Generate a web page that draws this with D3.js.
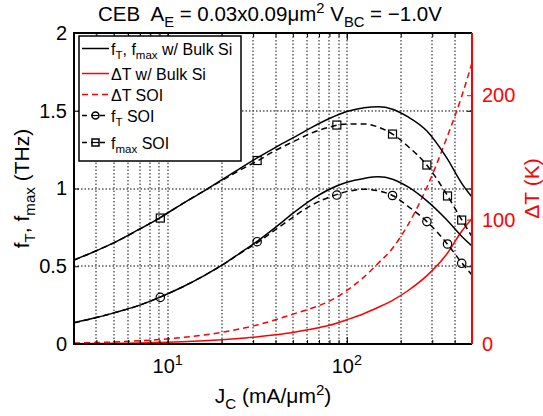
<!DOCTYPE html>
<html>
<head>
<meta charset="utf-8">
<script src="https://cdn.jsdelivr.net/npm/d3@7"></script>
<style>
  body { margin: 0; background: #fff; }
  svg text { font-family: "Liberation Sans", Arial, sans-serif; white-space: pre; }
</style>
</head>
<body>
<svg class="chart"></svg>
<script>
'use strict'

// current density samples (mA/um^2)
const jGrid = [3, 4, 5, 7, 9, 12, 16, 20, 25, 32, 40, 50, 63, 80, 100, 125, 150, 180, 220, 280, 360, 440, 500]

// THz
const fTBulk = [0.137, 0.17, 0.20, 0.25, 0.30, 0.365, 0.44, 0.505, 0.58, 0.665, 0.75, 0.84, 0.925, 0.995, 1.04, 1.065, 1.075, 1.06, 1.01, 0.92, 0.80, 0.69, 0.63]
const fmaxBulk = [0.54, 0.60, 0.65, 0.74, 0.81, 0.90, 0.985, 1.055, 1.125, 1.20, 1.265, 1.325, 1.39, 1.45, 1.495, 1.52, 1.525, 1.51, 1.46, 1.37, 1.20, 1.03, 0.945]
const fTSoi = [0.137, 0.17, 0.20, 0.25, 0.30, 0.365, 0.44, 0.505, 0.578, 0.655, 0.735, 0.815, 0.89, 0.945, 0.98, 0.995, 0.985, 0.955, 0.885, 0.787, 0.65, 0.52, 0.444]
const fmaxSoi = [0.54, 0.60, 0.65, 0.74, 0.81, 0.90, 0.985, 1.05, 1.115, 1.18, 1.245, 1.30, 1.355, 1.395, 1.415, 1.415, 1.395, 1.35, 1.27, 1.15, 0.965, 0.795, 0.69]

// K
const dTBulk = [0.3, 0.4, 0.6, 0.9, 1.3, 1.9, 2.7, 3.5, 4.5, 5.8, 7.4, 9.3, 11.8, 15, 19.5, 24.5, 29.5, 35, 43, 55, 72, 91, 101]
const dTSoi = [0.8, 1.2, 1.6, 2.6, 3.6, 5.2, 7.2, 9.3, 12, 15.5, 19.5, 24, 28.5, 34.5, 43, 54, 65, 77, 96, 126, 165, 200, 226]

// SOI markers
const markJ = [9.1, 31.6, 88, 180, 280, 365, 438]
const fTMarks = [0.30, 0.658, 0.958, 0.955, 0.787, 0.643, 0.519]
const fmaxMarks = [0.81, 1.18, 1.408, 1.35, 1.151, 0.952, 0.797]

const leftTicks = [0, 0.5, 1, 1.5, 2]
const rightTicks = [0, 100, 200]
const xMajor = [10, 100]
const xMinor = [4, 5, 6, 7, 8, 9, 10, 20, 30, 40, 50, 60, 70, 80, 90, 100, 200, 300, 400]

const width = 543
const height = 416
const margin = { left: 74, right: 71, top: 33, bottom: 72 }
const red = '#ff0000'
const font = 20

const svg = d3.select('.chart').attr('width', width).attr('height', height)

const x = d3.scaleLog().domain([3, 500]).range([margin.left, width - margin.right])
const yL = d3.scaleLinear().domain([0, 2]).range([height - margin.bottom, margin.top])
const yR = d3.scaleLinear().domain([0, 250]).range([height - margin.bottom, margin.top])

const x0 = x.range()[0]
const x1 = x.range()[1]
const yTop = margin.top
const yBot = height - margin.bottom

// write text with sub / superscripts
function rich (sel, parts, size) {
  let shift = 0
  parts.forEach(([t, m]) => {
    const target = m === 'sub' ? size * 0.3 : m === 'sup' ? -size * 0.38 : 0
    sel.append('tspan')
      .attr('dy', target - shift)
      .attr('font-size', m ? size * 0.72 : size)
      .text(t)
    shift = target
  })
  return sel
}

svg.append('clipPath').attr('id', 'clip')
  .append('rect').attr('x', x0).attr('y', yTop).attr('width', x1 - x0).attr('height', yBot - yTop)

// grid (dotted)
const gridStyle = g => g.attr('stroke', '#555').attr('stroke-width', 1.4).attr('stroke-dasharray', '1.5,2')
const vGrid = svg.append('g').attr('class', 'grid').call(gridStyle)
vGrid.selectAll('line').data(xMinor).enter().append('line')
  .attr('x1', d => Math.round(x(d))).attr('x2', d => Math.round(x(d))).attr('y1', yTop).attr('y2', yBot)
const hGrid = svg.append('g').attr('class', 'grid').call(gridStyle)
hGrid.selectAll('line').data([0.5, 1, 1.5]).enter().append('line')
  .attr('x1', x0).attr('x2', x1).attr('y1', d => Math.round(yL(d))).attr('y2', d => Math.round(yL(d)))

// curves
const plot = svg.append('g').attr('clip-path', 'url(#clip)')
const lineL = vals => d3.line().x((d, i) => x(jGrid[i])).y(d => yL(d)).curve(d3.curveMonotoneX)(vals)
const lineR = vals => d3.line().x((d, i) => x(jGrid[i])).y(d => yR(d)).curve(d3.curveMonotoneX)(vals)

const series = [
  { d: lineR(dTBulk), c: red, dash: null },
  { d: lineR(dTSoi), c: red, dash: '6,4' },
  { d: lineL(fTSoi), c: '#000', dash: '6,4' },
  { d: lineL(fmaxSoi), c: '#000', dash: '6,4' },
  { d: lineL(fTBulk), c: '#000', dash: null },
  { d: lineL(fmaxBulk), c: '#000', dash: null }
]
plot.selectAll('.curve').data(series).enter().append('path')
  .attr('d', s => s.d)
  .attr('fill', 'none')
  .attr('stroke', s => s.c)
  .attr('stroke-width', 1.5)
  .attr('stroke-dasharray', s => s.dash)

plot.selectAll('.circ').data(fTMarks).enter().append('circle')
  .attr('cx', (d, i) => x(markJ[i])).attr('cy', d => yL(d)).attr('r', 4.2)
  .attr('fill', 'none').attr('stroke', '#000').attr('stroke-width', 1.2)
plot.selectAll('.sq').data(fmaxMarks).enter().append('rect')
  .attr('x', (d, i) => x(markJ[i]) - 4).attr('y', d => yL(d) - 4).attr('width', 8).attr('height', 8)
  .attr('fill', 'none').attr('stroke', '#000').attr('stroke-width', 1.2)

// axes: ticks point inward
const axB = svg.append('g').attr('transform', `translate(0,${yBot})`)
  .call(d3.axisBottom(x).tickValues(xMinor).tickSize(-4).tickFormat(''))
const axT = svg.append('g').attr('transform', `translate(0,${yTop})`)
  .call(d3.axisTop(x).tickValues(xMinor).tickSize(-4).tickFormat(''))
const axB2 = svg.append('g').attr('transform', `translate(0,${yBot})`)
  .call(d3.axisBottom(x).tickValues(xMajor).tickSize(-7).tickFormat(''))
const axT2 = svg.append('g').attr('transform', `translate(0,${yTop})`)
  .call(d3.axisTop(x).tickValues(xMajor).tickSize(-7).tickFormat(''))
const axL = svg.append('g').attr('transform', `translate(${x0},0)`)
  .call(d3.axisLeft(yL).tickValues(leftTicks).tickSize(-5).tickPadding(7).tickFormat(d3.format('')))
const axL2 = svg.append('g').attr('transform', `translate(${x1},0)`)
  .call(d3.axisRight(yL).tickValues(leftTicks).tickSize(-5).tickFormat(''))
const axR = svg.append('g').attr('transform', `translate(${x1},0)`)
  .call(d3.axisRight(yR).tickValues(rightTicks).tickSize(-5).tickPadding(10).tickFormat(d3.format('')))

;[axB, axT, axB2, axT2, axL, axL2].forEach(a => {
  a.select('.domain').remove()
  a.selectAll('line').attr('stroke', '#000').attr('stroke-width', 1)
})
axR.select('.domain').remove()
axR.selectAll('line').attr('stroke', red)
axL.selectAll('text').attr('font-size', font).attr('fill', '#000')
axR.selectAll('text').attr('font-size', font).attr('fill', red)

// frame
svg.append('path').attr('d', `M${x1},${yTop}H${x0}V${yBot}H${x1}`)
  .attr('fill', 'none').attr('stroke', '#000').attr('stroke-width', 2)
svg.append('line').attr('x1', x1).attr('x2', x1).attr('y1', yTop).attr('y2', yBot)
  .attr('stroke', red).attr('stroke-width', 2)

// x tick labels 10^n
svg.selectAll('.xl').data(xMajor).enter().append('text')
  .attr('x', d => x(d)).attr('y', yBot + 29).attr('text-anchor', 'middle')
  .each(function (d) { rich(d3.select(this), [['10', ''], [String(Math.log10(d)), 'sup']], font) })

// legend
const leg = svg.append('g')
leg.append('rect').attr('x', 79).attr('y', 36).attr('width', 162).attr('height', 125)
  .attr('fill', '#fff').attr('stroke', '#000').attr('stroke-width', 1.5)
const legItems = [
  { y: 48.5, c: '#000', dash: null, m: null, t: [['f', ''], ['T', 'sub'], [', f', ''], ['max', 'sub'], [' w/ Bulk Si', '']] },
  { y: 73.5, c: red, dash: null, m: null, t: [['ΔT w/ Bulk Si', '']] },
  { y: 94.5, c: red, dash: '6,4', m: null, t: [['ΔT SOI', '']] },
  { y: 115.5, c: '#000', dash: '5,4', m: 'c', t: [['f', ''], ['T', 'sub'], [' SOI', '']] },
  { y: 142.5, c: '#000', dash: '5,4', m: 's', t: [['f', ''], ['max', 'sub'], [' SOI', '']] }
]
legItems.forEach(it => {
  leg.append('line').attr('x1', 82).attr('x2', 109).attr('y1', it.y).attr('y2', it.y)
    .attr('stroke', it.c).attr('stroke-width', 1.5).attr('stroke-dasharray', it.dash)
  if (it.m === 'c') {
    leg.append('circle').attr('cx', 95.5).attr('cy', it.y).attr('r', 3.5)
      .attr('fill', '#fff').attr('stroke', '#000').attr('stroke-width', 1.5)
    leg.append('line').attr('x1', 92).attr('x2', 99).attr('y1', it.y).attr('y2', it.y).attr('stroke', '#000').attr('stroke-width', 1.2)
  } else if (it.m === 's') {
    leg.append('rect').attr('x', 92).attr('y', it.y - 3.5).attr('width', 7).attr('height', 7)
      .attr('fill', '#fff').attr('stroke', '#000').attr('stroke-width', 1.5)
    leg.append('line').attr('x1', 92).attr('x2', 99).attr('y1', it.y).attr('y2', it.y).attr('stroke', '#000').attr('stroke-width', 1.2)
  }
  rich(leg.append('text').attr('x', 111).attr('y', it.y + 6).attr('fill', '#000'), it.t, 16)
})

// title and labels
rich(svg.append('text').attr('x', (x0 + x1) / 2 - 3).attr('y', 21).attr('text-anchor', 'middle'),
  [['CEB  A', ''], ['E', 'sub'], [' = 0.03x0.09μm', ''], ['2', 'sup'], [' V', ''], ['BC', 'sub'], [' = −1.0V', '']], 20.5)

rich(svg.append('text').attr('x', (x0 + x1) / 2).attr('y', 403).attr('text-anchor', 'middle'),
  [['J', ''], ['C', 'sub'], [' (mA/μm', ''], ['2', 'sup'], [')', '']], 21)

rich(svg.append('text').attr('transform', `translate(29,${(yTop + yBot) / 2}) rotate(-90)`).attr('text-anchor', 'middle'),
  [['f', ''], ['T', 'sub'], [', f', ''], ['max', 'sub'], [' (THz)', '']], 21)

svg.append('text').attr('transform', `translate(539,${(yTop + yBot) / 2}) rotate(-90)`)
  .attr('text-anchor', 'middle').attr('fill', red).attr('font-size', 21)
  .text('ΔT (K)')
</script>
</body>
</html>
